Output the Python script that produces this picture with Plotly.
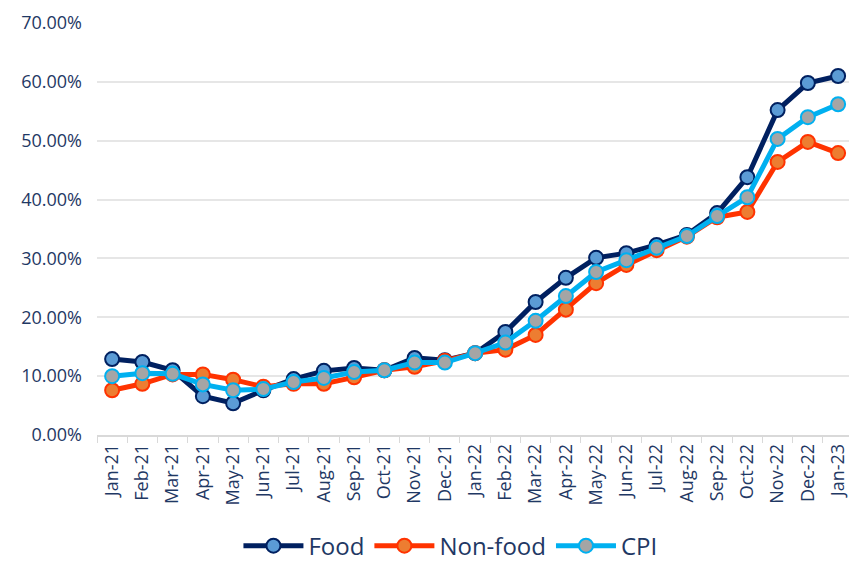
import plotly.graph_objects as go

months = ["Jan-21", "Feb-21", "Mar-21", "Apr-21", "May-21", "Jun-21", "Jul-21", "Aug-21",
          "Sep-21", "Oct-21", "Nov-21", "Dec-21", "Jan-22", "Feb-22", "Mar-22", "Apr-22",
          "May-22", "Jun-22", "Jul-22", "Aug-22", "Sep-22", "Oct-22", "Nov-22", "Dec-22", "Jan-23"]

food = [12.9, 12.4, 11.0, 6.6, 5.4, 7.6, 9.5, 10.9, 11.4, 11.0, 13.1, 12.7, 13.9,
        17.5, 22.6, 26.7, 30.1, 30.9, 32.3, 34.0, 37.7, 43.8, 55.2, 59.8, 61.0]
nonfood = [7.6, 8.7, 10.3, 10.3, 9.4, 8.2, 8.7, 8.7, 9.8, 11.0, 11.6, 12.6, 13.9,
           14.5, 17.0, 21.3, 25.8, 28.9, 31.4, 33.7, 37.0, 37.9, 46.4, 49.8, 47.9]
cpi = [10.0, 10.5, 10.4, 8.6, 7.6, 7.8, 9.0, 9.7, 10.7, 11.0, 12.3, 12.3, 13.9,
       15.7, 19.4, 23.6, 27.7, 29.7, 31.8, 33.8, 37.2, 40.4, 50.3, 54.0, 56.2]

y_ticks = [0, 10, 20, 30, 40, 50, 60, 70]
y_tick_labels = ["0.00%", "10.00%", "20.00%", "30.00%", "40.00%", "50.00%", "60.00%", "70.00%"]

FONT = "Open Sans"
TXT = "#1F3864"

fig = go.Figure()
series = [
    ("Food", food, "#002060", "#5B9BD5", "#002060"),
    ("Non-food", nonfood, "#FF3300", "#ED7D31", "#FF3300"),
    ("CPI", cpi, "#00B0F0", "#A5A5A5", "#00B0F0"),
]
for name, vals, lc, mf, ml in series:
    fig.add_trace(go.Scatter(
        x=months, y=vals, name=name, mode="lines+markers",
        line=dict(color=lc, width=5),
        marker=dict(size=14, color=mf, line=dict(color=ml, width=2)),
        cliponaxis=False,
    ))

fig.update_layout(
    width=849, height=562,
    margin=dict(l=97, r=0, t=23, b=127, autoexpand=False),
    paper_bgcolor="white", plot_bgcolor="white",
    font=dict(family=FONT, color=TXT),
    showlegend=True,
    legend=dict(orientation="h", x=0.47, xanchor="center", y=-0.215, yanchor="top",
                font=dict(size=24, color=TXT, family=FONT), itemwidth=60,
                bgcolor="rgba(0,0,0,0)"),
    xaxis=dict(
        type="category", range=[-0.5, 24.36], automargin=False,
        tickangle=-90, tickfont=dict(size=18, color=TXT, family=FONT),
        showline=True, linecolor="#D9D9D9", linewidth=1.5,
        ticks="outside", tickson="boundaries", ticklen=6, tickcolor="#D9D9D9",
        showgrid=False, zeroline=False,
    ),
    yaxis=dict(
        range=[0, 70], automargin=False, tickvals=y_ticks, ticktext=y_tick_labels,
        tickfont=dict(size=18, color=TXT, family=FONT),
        showgrid=True, gridcolor="#E6E6E6", gridwidth=1.5,
        zeroline=False, showline=False, ticks="", ticklabelstandoff=14,
    ),
)

fig.write_html("out.html", config={"displayModeBar": False},
               post_script="document.body.style.margin='0';document.body.style.overflow='hidden';")
